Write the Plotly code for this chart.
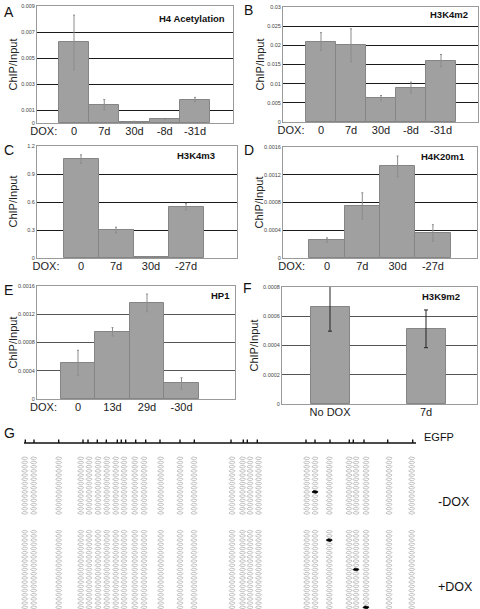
import numpy as np
import plotly.graph_objects as go

W, H = 480, 609

# ---------------- data ----------------
a_labels = ["DOX:", "0", "7d", "30d", "-8d", "-31d"]
a_values = [None, 0.0062, 0.0014, 0.0001, 0.0003, 0.0018]
a_errors = [0, 0.0021, 0.0004, 0.00003, 0.00005, 0.00017]
a_yticks = [0, 0.001, 0.003, 0.005, 0.007, 0.009]
a_yticktext = ["0", "0.001", "0.003", "0.005", "0.007", "0.009"]

b_labels = ["DOX:", "0", "7d", "30d", "-8d", "-31d"]
b_values = [None, 0.021, 0.020, 0.0062, 0.009, 0.016]
b_errors = [0, 0.0023, 0.0043, 0.0007, 0.0014, 0.0016]
b_yticks = [0, 0.005, 0.01, 0.015, 0.02, 0.025, 0.03]
b_yticktext = ["0", "0.005", "0.01", "0.015", "0.02", "0.025", "0.03"]

c_labels = ["DOX:", "0", "7d", "30d", "-27d"]
c_values = [None, 1.06, 0.30, 0.014, 0.55]
c_errors = [0, 0.045, 0.03, 0, 0.035]
c_yticks = [0, 0.3, 0.6, 0.9, 1.2]
c_yticktext = ["0", "0.3", "0.6", "0.9", "1.2"]

d_labels = ["DOX:", "0", "7d", "30d", "-27d"]
d_values = [None, 0.00026, 0.00075, 0.00132, 0.00036]
d_errors = [0, 0.00003, 0.00019, 0.00015, 0.00012]
d_yticks = [0, 0.0004, 0.0008, 0.0012, 0.0016]
d_yticktext = ["0", "0.0004", "0.0008", "0.0012", "0.0016"]

e_labels = ["DOX:", "0", "13d", "29d", "-30d"]
e_values = [None, 0.00051, 0.00095, 0.00136, 0.00022]
e_errors = [0, 0.00018, 0.00006, 0.000125, 0.00008]
e_yticks = [0, 0.0004, 0.0008, 0.0012, 0.0016]
e_yticktext = ["0", "0.0004", "0.0008", "0.0012", "0.0016"]

f_labels = ["No DOX", "7d"]
f_values = [0.000663, 0.000514]
f_errors = [0.000165, 0.000129]
f_yticks = [0, 0.0002, 0.0004, 0.0006, 0.0008]
f_yticktext = ["0", "0.0002", "0.0004", "0.0006", "0.0008"]

panel_titles = ["H4 Acetylation", "H3K4m2", "H3K4m3", "H4K20m1", "HP1", "H3K9m2"]
panel_letters = ["A", "B", "C", "D", "E", "F", "G"]

# Panel G: bisulfite sequencing of the EGFP region
cpg_ticks = [25.3, 34, 58.7, 83, 88, 97.3, 106.3, 117.3, 121.3, 125.7, 135.7, 145.7,
             160, 180, 194.3, 231, 243.3, 247.3, 257.3, 306, 315, 330, 349.3, 353.3,
             364, 387.7, 412.7]
cpg_columns = [24.7, 33.7, 58.7, 80.7, 89, 98, 106.7, 115.7, 124, 134.7, 144, 160.7,
               180, 194, 232, 242.5, 250, 258.5, 306.7, 315, 329.3, 349, 356, 366,
               389, 411.7]
minus_dox_clones = 14
plus_dox_clones = 19
minus_dox_methylated = [(8, 19)]            # (clone row, CpG column index)
plus_dox_methylated = [(2, 20), (9, 22), (18, 23)]
group_labels = ["-DOX", "+DOX"]
gene_label = "EGFP"

# ---------------- layout geometry (pixels) ----------------
# left, right, top, bottom of each plot box; first-bar centre; bar pitch
boxes = [
    (37, 233, 6, 123, 74, 30.25),
    (283, 478, 7, 122, 321, 30.0),
    (37, 237, 146, 258, 81, 35.0),
    (283, 477, 147, 258, 327, 35.3),
    (37, 235, 286, 399, 78, 34.5),
    (282, 477, 287, 404, 330, 96.0),
]

def xdom(l, r):
    return [l / W, r / W]

def ydom(t, b):
    return [1 - b / H, 1 - t / H]

panels = [
    (a_labels, a_values, a_errors, a_yticks, a_yticktext),
    (b_labels, b_values, b_errors, b_yticks, b_yticktext),
    (c_labels, c_values, c_errors, c_yticks, c_yticktext),
    (d_labels, d_values, d_errors, d_yticks, d_yticktext),
    (e_labels, e_values, e_errors, e_yticks, e_yticktext),
    (f_labels, f_values, f_errors, f_yticks, f_yticktext),
]

fig = go.Figure()
FONT = "Liberation Sans, Arial, sans-serif"
BAR_FILL = "#a0a0a0"
BAR_LINE = "#858585"

layout = {}
annotations = []
for i, ((labels, values, errors, yt, ytt), box) in enumerate(zip(panels, boxes)):
    n = i + 1
    sfx = "" if n == 1 else str(n)
    l, r, t, b, c0, pitch = box
    is_f = (i == 5)
    first_idx = 0 if is_f else 1
    x_lo = first_idx - (c0 - l) / pitch
    x_hi = first_idx + (r - c0) / pitch
    width = 39 / pitch if is_f else 1.0
    fig.add_trace(go.Bar(
        x=labels, y=values, width=width,
        marker=dict(color=BAR_FILL, line=dict(color=BAR_LINE, width=1)),
        error_y=dict(type="data", array=errors, visible=True,
                     color="#222" if is_f else "#8c8c8c",
                     thickness=1, width=2 if is_f else 1),
        xaxis="x" + sfx, yaxis="y" + sfx, showlegend=False,
    ))
    grid_col = "#555" if i >= 4 else "#1a1a1a"
    layout["xaxis" + sfx] = dict(
        domain=xdom(l, r), anchor="y" + sfx, type="category",
        categoryorder="array", categoryarray=labels,
        range=[x_lo, x_hi], showgrid=False, zeroline=False,
        showline=True, mirror=True, linecolor="#9a9a9a", linewidth=1,
        ticks="", ticklabelstandoff=-2,
        tickfont=dict(size=11, color="#222", family=FONT),
        fixedrange=True, automargin=False,
    )
    layout["yaxis" + sfx] = dict(
        domain=ydom(t, b), anchor="x" + sfx, range=[0, yt[-1]],
        tickvals=yt, ticktext=ytt, showgrid=True, gridcolor=grid_col,
        gridwidth=1, zeroline=False, showline=True, mirror=True,
        linecolor="#9a9a9a", linewidth=1, ticks="",
        tickfont=dict(size=5.5, color="#444", family=FONT),
        fixedrange=True, automargin=False,
    )

# Axis titles, panel titles and panel letters
ylab_x = [12, 259, 12.5, 258, 12, 253]
title_pos = [(227, 19), (470, 15), (217, 155), (467, 156), (232, 295), (462, 296)]
letter_pos = [(2, 12), (242, 10), (2, 150), (242, 150), (2, 290), (241, 288), (2, 433)]
for i, box in enumerate(boxes):
    l, r, t, b, _, _ = box
    annotations.append(dict(
        text="ChIP/Input", x=ylab_x[i] / W, y=1 - ((t + b) / 2) / H,
        xref="paper", yref="paper", showarrow=False, textangle=-90,
        font=dict(size=11, color="#222", family=FONT),
        xanchor="center", yanchor="middle"))
    tx, ty = title_pos[i]
    annotations.append(dict(
        text="<b>" + panel_titles[i] + "</b>", x=tx / W, y=1 - ty / H,
        xref="paper", yref="paper", showarrow=False,
        font=dict(size=9.5, color="#111", family=FONT),
        xanchor="right", yanchor="middle"))
for letter, (lx, ly) in zip(panel_letters, letter_pos):
    annotations.append(dict(
        text=letter, x=lx / W, y=1 - ly / H, xref="paper", yref="paper",
        showarrow=False, font=dict(size=14, color="#111", family=FONT),
        xanchor="left", yanchor="middle"))

# ---------------- Panel G ----------------
G_TOP = 420
layout["xaxis7"] = dict(domain=[0, 1], anchor="y7", range=[0, W], visible=False,
                        fixedrange=True)
layout["yaxis7"] = dict(domain=[0, 1 - G_TOP / H], anchor="x7", range=[H, G_TOP],
                        visible=False, fixedrange=True)

line_y = 443
line_x0, line_x1 = 24, 416
tick_h = 3.5
lx, ly = [line_x0, line_x1, None], [line_y, line_y, None]
for p in cpg_ticks:
    lx += [p, p, None]
    ly += [line_y, line_y - tick_h, None]
fig.add_trace(go.Scatter(x=lx, y=ly, mode="lines", line=dict(color="#111", width=1.4),
                         xaxis="x7", yaxis="y7", showlegend=False, hoverinfo="skip"))

theta = np.linspace(0, 2 * np.pi, 15)
rx, ry = 2.9, 1.4
group_tops = [458.3, 531.7]
row_step = 4.2
groups = [(minus_dox_clones, minus_dox_methylated), (plus_dox_clones, plus_dox_methylated)]

ox, oy, fx, fy = [], [], [], []
for (nclones, meth), top in zip(groups, group_tops):
    meth_set = set(meth)
    for r in range(nclones):
        cy = top + r * row_step
        for ci, cx in enumerate(cpg_columns):
            ex = list(cx + rx * np.cos(theta)) + [None]
            ey = list(cy + ry * np.sin(theta)) + [None]
            if (r, ci) in meth_set:
                fx += ex
                fy += ey
            else:
                ox += ex
                oy += ey

fig.add_trace(go.Scatter(x=ox, y=oy, mode="lines", line=dict(color="#a8a8a8", width=0.7),
                         xaxis="x7", yaxis="y7", showlegend=False, hoverinfo="skip"))
fig.add_trace(go.Scatter(x=fx, y=fy, mode="lines", fill="toself", fillcolor="#000",
                         line=dict(color="#000", width=0.8),
                         xaxis="x7", yaxis="y7", showlegend=False, hoverinfo="skip"))

annotations.append(dict(text=gene_label, x=422 / W, y=1 - 437 / H, xref="paper",
                        yref="paper", showarrow=False, xanchor="left", yanchor="middle",
                        font=dict(size=11, color="#111", family=FONT)))
for lab, gy in zip(group_labels, [502, 587]):
    annotations.append(dict(text=lab, x=436 / W, y=1 - gy / H, xref="paper",
                            yref="paper", showarrow=False, xanchor="left",
                            yanchor="middle",
                            font=dict(size=12.5, color="#111", family=FONT)))

fig.update_layout(
    width=W, height=H, margin=dict(l=0, r=0, t=0, b=0),
    paper_bgcolor="white", plot_bgcolor="white", bargap=0,
    showlegend=False, annotations=annotations, font=dict(family=FONT),
    **layout,
)

fig.write_html("out.html", config={"displayModeBar": False},
               post_script="document.body.style.margin='0';document.body.style.overflow='hidden';")
